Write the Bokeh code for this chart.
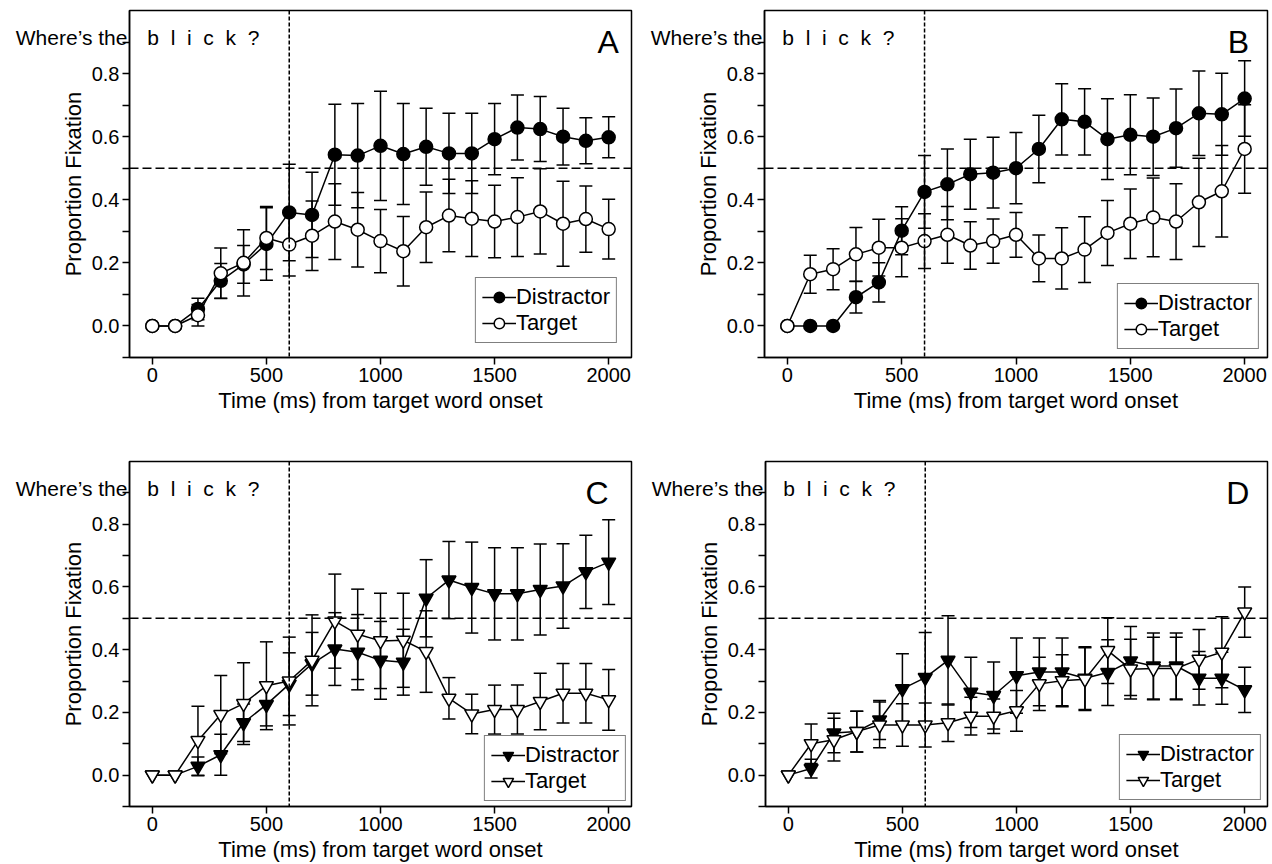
from bokeh.plotting import figure
from bokeh.models import (Range1d, FixedTicker, PrintfTickFormatter, Span, Label,
                          Legend, LegendItem, Whisker, TeeHead, ColumnDataSource)
from bokeh.layouts import column, row
from bokeh.embed import file_html
from bokeh.resources import INLINE

FONT = "Liberation Sans"

time_ms = [0, 100, 200, 300, 400, 500, 600, 700, 800, 900, 1000,
           1100, 1200, 1300, 1400, 1500, 1600, 1700, 1800, 1900, 2000]

a_dist = [0, 0, 0.054, 0.143, 0.195, 0.26, 0.36, 0.352, 0.543, 0.54, 0.571,
          0.545, 0.568, 0.547, 0.547, 0.592, 0.629, 0.624, 0.6, 0.587, 0.598]
a_dist_err = [0, 0, 0.034, 0.055, 0.06, 0.115, 0.153, 0.135, 0.16, 0.165, 0.173,
              0.16, 0.122, 0.127, 0.127, 0.113, 0.103, 0.103, 0.09, 0.073, 0.065]
a_targ = [0, 0, 0.034, 0.167, 0.2, 0.279, 0.258, 0.286, 0.331, 0.305, 0.269,
          0.237, 0.313, 0.35, 0.34, 0.331, 0.345, 0.363, 0.324, 0.339, 0.307]
a_targ_err = [0, 0, 0.034, 0.08, 0.105, 0.1, 0.1, 0.11, 0.12, 0.118, 0.1,
              0.11, 0.112, 0.115, 0.12, 0.115, 0.125, 0.135, 0.135, 0.105, 0.095]

b_dist = [0, 0, 0, 0.091, 0.138, 0.302, 0.425, 0.449, 0.481, 0.486, 0.5,
          0.561, 0.655, 0.647, 0.592, 0.606, 0.6, 0.627, 0.674, 0.671, 0.721]
b_dist_err = [0, 0, 0, 0.05, 0.062, 0.076, 0.115, 0.112, 0.111, 0.112, 0.113,
              0.107, 0.113, 0.105, 0.128, 0.127, 0.123, 0.124, 0.134, 0.13, 0.12]
b_targ = [0, 0.164, 0.18, 0.227, 0.248, 0.248, 0.269, 0.289, 0.255, 0.269, 0.289,
          0.214, 0.214, 0.242, 0.295, 0.324, 0.344, 0.331, 0.392, 0.427, 0.561]
b_targ_err = [0, 0.06, 0.065, 0.085, 0.09, 0.092, 0.087, 0.09, 0.075, 0.07, 0.071,
              0.074, 0.097, 0.104, 0.103, 0.11, 0.125, 0.12, 0.14, 0.145, 0.14]

c_dist = [0, 0, 0.028, 0.065, 0.167, 0.225, 0.29, 0.355, 0.402, 0.392, 0.366,
          0.36, 0.564, 0.622, 0.598, 0.578, 0.578, 0.592, 0.603, 0.648, 0.679]
c_dist_err = [0, 0, 0.03, 0.065, 0.06, 0.068, 0.1, 0.1, 0.116, 0.12, 0.124,
              0.105, 0.123, 0.123, 0.145, 0.147, 0.147, 0.145, 0.135, 0.117, 0.135]
c_targ = [0, 0, 0.11, 0.193, 0.228, 0.285, 0.3, 0.366, 0.491, 0.449, 0.428,
          0.43, 0.394, 0.245, 0.195, 0.209, 0.209, 0.235, 0.261, 0.261, 0.24]
c_targ_err = [0, 0, 0.11, 0.125, 0.13, 0.14, 0.14, 0.145, 0.15, 0.144, 0.152,
              0.15, 0.13, 0.066, 0.063, 0.078, 0.078, 0.09, 0.095, 0.095, 0.097]

d_dist = [0, 0.021, 0.134, 0.139, 0.176, 0.275, 0.311, 0.366, 0.264, 0.254, 0.317,
          0.329, 0.329, 0.309, 0.327, 0.364, 0.348, 0.348, 0.309, 0.309, 0.272]
d_dist_err = [0, 0.03, 0.063, 0.065, 0.062, 0.112, 0.144, 0.142, 0.112, 0.107, 0.12,
              0.108, 0.108, 0.1, 0.105, 0.11, 0.105, 0.105, 0.085, 0.083, 0.072]
d_targ = [0, 0.1, 0.113, 0.139, 0.16, 0.16, 0.16, 0.167, 0.188, 0.188, 0.205,
          0.291, 0.301, 0.306, 0.397, 0.338, 0.34, 0.34, 0.369, 0.392, 0.52]
d_targ_err = [0, 0.063, 0.068, 0.065, 0.073, 0.068, 0.07, 0.06, 0.06, 0.055, 0.065,
              0.085, 0.083, 0.1, 0.105, 0.095, 0.1, 0.1, 0.095, 0.113, 0.08]

y_ticks = [0.0, 0.2, 0.4, 0.6, 0.8]
y_minor = [-0.1, 0.1, 0.3, 0.5, 0.7, 0.9]
x_ticks = [0, 500, 1000, 1500, 2000]
series_names = ["Distractor", "Target"]
x_title = "Time (ms) from target word onset"
y_title = "Proportion Fixation"
prompt_text = "Where\u2019s the"
word_text = "b\u00a0 l\u00a0 i\u00a0 c\u00a0 k\u00a0 ?"


def add_series(p, vals, errs, marker, fill, size):
    keep = [i for i, e in enumerate(errs) if e > 0]
    src = ColumnDataSource(dict(
        x=[time_ms[i] for i in keep],
        lo=[vals[i] - errs[i] for i in keep],
        hi=[vals[i] + errs[i] for i in keep]))
    w = Whisker(base="x", lower="lo", upper="hi", source=src,
                line_color="black", line_width=1.5, level="underlay",
                upper_head=TeeHead(size=13, line_width=1.5, line_color="black"),
                lower_head=TeeHead(size=13, line_width=1.5, line_color="black"))
    p.add_layout(w)
    ln = p.line(time_ms, vals, line_color="black", line_width=1.5)
    sc = p.scatter(time_ms, vals, marker=marker, size=size, fill_color=fill,
                   line_color="black", line_width=1.5)
    return ln, sc


def panel(letter, dist, dist_err, targ, targ_err, marker, size,
          width, height, mbl, mbr, mbt, mbb, letter_x, legend_margin, prompt_side):
    p = figure(width=width, height=height, output_backend="svg",
               toolbar_location=None,
               x_range=Range1d(-100, 2100), y_range=Range1d(-0.1, 1.0),
               min_border_left=mbl, min_border_right=mbr,
               min_border_top=mbt, min_border_bottom=mbb)
    p.xgrid.visible = False
    p.ygrid.visible = False
    p.outline_line_color = "black"
    p.outline_line_width = 1.5
    p.outline_line_alpha = 1.0
    p.background_fill_color = "white"
    p.border_fill_color = "white"

    for ax in (p.xaxis[0], p.yaxis[0]):
        ax.axis_line_width = 1.5
        ax.major_tick_line_width = 1.5
        ax.minor_tick_line_width = 1.5
        ax.major_tick_in = 0
        ax.major_tick_out = 7
        ax.minor_tick_in = 0
        ax.minor_tick_out = 7
        ax.major_label_text_font = FONT
        ax.major_label_text_font_size = "20px"
        ax.major_label_text_color = "black"
        ax.axis_label_text_font = FONT
        ax.axis_label_text_font_size = "22px"
        ax.axis_label_text_font_style = "normal"
        ax.axis_label_text_color = "black"
        ax.major_label_standoff = 3
        ax.axis_label_standoff = 3

    p.xaxis.ticker = FixedTicker(ticks=x_ticks)
    p.xaxis.minor_tick_line_color = None
    p.xaxis.axis_label = x_title
    p.yaxis.ticker = FixedTicker(ticks=y_ticks, minor_ticks=y_minor)
    p.yaxis.formatter = PrintfTickFormatter(format="%.1f")
    p.yaxis.axis_label = y_title

    p.add_layout(Span(location=600, dimension="height", line_color="black",
                      line_width=1.5, line_dash="4 2"))
    p.add_layout(Span(location=0.5, dimension="width", line_color="black",
                      line_width=1.5, line_dash="9 4"))

    ld, sd = add_series(p, dist, dist_err, marker, "black", size)
    lt, st = add_series(p, targ, targ_err, marker, "white", size)

    legend = Legend(items=[LegendItem(label=series_names[0], renderers=[ld, sd]),
                           LegendItem(label=series_names[1], renderers=[lt, st])],
                    location="bottom_right", margin=legend_margin,
                    border_line_color="black", border_line_width=1.5,
                    label_text_font=FONT, label_text_font_size="22px",
                    label_text_color="black",
                    glyph_width=34, glyph_height=26, spacing=-3,
                    padding=6, label_standoff=0,
                    label_height=20, background_fill_alpha=1.0)
    p.add_layout(legend)

    # side-panel label (not clipped by the frame), positioned in data space
    p.add_layout(Label(x=-109, y=0.915, text=prompt_text, text_align="right",
                       text_baseline="alphabetic", text_font=FONT,
                       text_font_size="21px", text_color="black"), prompt_side)
    p.add_layout(Label(x=-22, y=0.915, text=word_text, text_align="left",
                       text_baseline="alphabetic", text_font=FONT,
                       text_font_size="21px", text_color="black"))
    p.add_layout(Label(x=letter_x, y=0.9, text=letter, text_align="right",
                       text_baseline="alphabetic", text_font=FONT,
                       text_font_size="32px", text_color="black"))
    return p


pA = panel("A", a_dist, a_dist_err, a_targ, a_targ_err, "circle", 13,
           640, 438, 129, 9, 10, 79, 2045, 14, "below")
pB = panel("B", b_dist, b_dist_err, b_targ, b_targ_err, "circle", 13,
           632, 438, 124, 5, 10, 79, 2020, 8, "below")
pC = panel("C", c_dist, c_dist_err, c_targ, c_targ_err, "inverted_triangle", 14,
           640, 426, 129, 9, 16, 57, 2000, 5, "above")
pD = panel("D", d_dist, d_dist_err, d_targ, d_targ_err, "inverted_triangle", 14,
           632, 426, 125, 5, 17, 56, 2020, 6, "above")

layout = column(row(pA, pB), row(pC, pD))

open("out.html", "w").write(file_html(layout, INLINE))
